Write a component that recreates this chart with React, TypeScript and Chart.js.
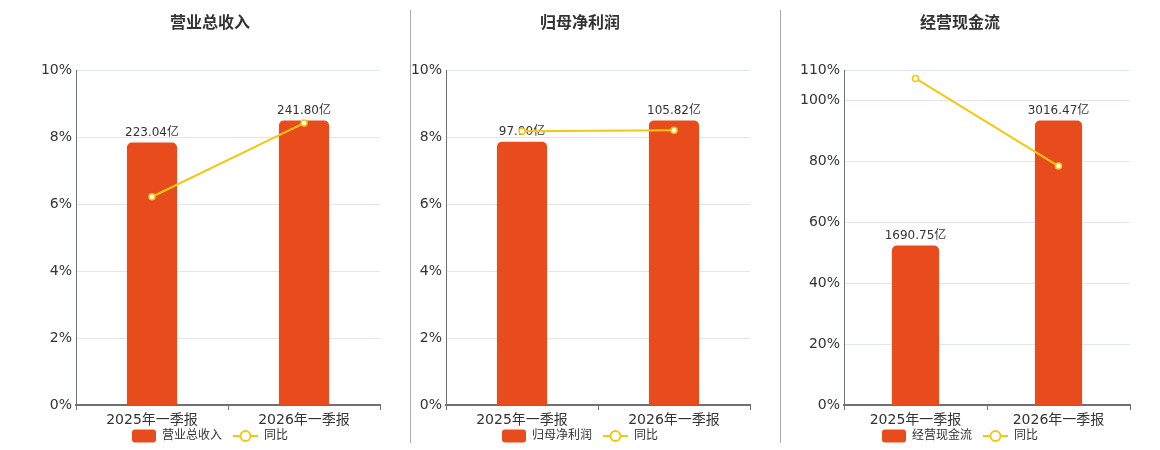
import React, { useEffect, useRef } from 'react';
import { Chart, registerables } from 'chart.js';

Chart.register(...registerables);

// ---------- data ----------
const categories = ['2025年一季报', '2026年一季报'];

const revenueTitle = '营业总收入';
const revenueValues = [223.04, 241.8];
const revenueYoY = [6.22, 8.42];

const profitTitle = '归母净利润';
const profitValues = [97.9, 105.82];
const profitYoY = [8.18, 8.21];

const cashTitle = '经营现金流';
const cashValues = [1690.75, 3016.47];
const cashYoY = [107.3, 78.5];

const smallPercentTicks = [0, 2, 4, 6, 8, 10];
const cashPercentTicks = [0, 20, 40, 60, 80, 100, 110];

const yoyLabel = '同比';
const unit = '亿';

// ---------- styles ----------
const FONT = "'DejaVu Sans', 'Noto Sans CJK SC', sans-serif";
const BAR_COLOR = '#E84C1C';
const LINE_COLOR = '#F3C811';
const AXIS_COLOR = '#6E7079';
const GRID_COLOR = '#E0E6F1';
const TEXT_COLOR = '#333';

Chart.defaults.font.family = FONT;

const valueLabelPlugin = {
  id: 'valueLabels',
  afterDatasetDraw(chart: any, args: any) {
    if (args.index !== 0) return;
    const ctx = chart.ctx;
    ctx.save();
    ctx.font = `12px ${FONT}`;
    ctx.fillStyle = TEXT_COLOR;
    ctx.textAlign = 'center';
    ctx.textBaseline = 'bottom';
    args.meta.data.forEach((el: any, i: number) => {
      const v = chart.data.datasets[0].data[i] as number;
      ctx.fillText(v.toFixed(2) + unit, el.x, el.y - 4);
    });
    ctx.restore();
  },
};

// custom legend drawn at the bottom, centred on the canvas
const LEGEND_Y = 428;
const customLegendPlugin = {
  id: 'customLegend',
  afterDraw(chart: any) {
    const ctx = chart.ctx;
    const ds = chart.data.datasets;
    const barText = ds[0].label as string;
    const lineText = ds[1].label as string;
    ctx.save();
    ctx.font = `12px ${FONT}`;
    const wBarIcon = 24;
    const wLineIcon = 25;
    const gapText = 6;
    const gapItem = 11;
    const t1 = ctx.measureText(barText).width;
    const t2 = ctx.measureText(lineText).width;
    const total = wBarIcon + gapText + t1 + gapItem + wLineIcon + gapText + t2;
    let x = chart.width / 2 - total / 2;
    const y = LEGEND_Y;
    // bar icon
    ctx.fillStyle = BAR_COLOR;
    ctx.beginPath();
    ctx.roundRect(x, y - 6.5, wBarIcon, 13, 3);
    ctx.fill();
    x += wBarIcon + gapText;
    ctx.fillStyle = TEXT_COLOR;
    ctx.textAlign = 'left';
    ctx.textBaseline = 'middle';
    ctx.fillText(barText, x, y);
    x += t1 + gapItem;
    // line icon
    ctx.strokeStyle = LINE_COLOR;
    ctx.lineWidth = 2;
    ctx.beginPath();
    ctx.moveTo(x, y);
    ctx.lineTo(x + wLineIcon, y);
    ctx.stroke();
    ctx.beginPath();
    ctx.arc(x + wLineIcon / 2, y, 5, 0, Math.PI * 2);
    ctx.fillStyle = '#fff';
    ctx.fill();
    ctx.stroke();
    x += wLineIcon + gapText;
    ctx.fillStyle = TEXT_COLOR;
    ctx.fillText(lineText, x, y);
    ctx.restore();
  },
};

type PanelProps = {
  title: string;
  values: number[];
  yoy: number[];
  ticks: number[];
  left: number;
  width: number;
  yLeftWidth: number;
  yRightWidth: number;
};

const CANVAS_H = 442;

function Panel({ title, values, yoy, ticks, left, width, yLeftWidth, yRightWidth }: PanelProps) {
  const ref = useRef<HTMLCanvasElement>(null);
  useEffect(() => {
    if (!ref.current) return;
    const barMax = Math.max(...values) / 0.85;
    const chart = new Chart(ref.current, {
      type: 'bar',
      data: {
        labels: categories,
        datasets: [
          {
            type: 'bar',
            label: title,
            data: values,
            yAxisID: 'y1',
            backgroundColor: BAR_COLOR,
            borderRadius: { topLeft: 5, topRight: 5, bottomLeft: 0, bottomRight: 0 },
            borderSkipped: 'bottom',
            categoryPercentage: 1,
            barPercentage: 0.33,
            order: 1,
          } as any,
          {
            type: 'line',
            label: yoyLabel,
            data: yoy,
            yAxisID: 'y',
            borderColor: LINE_COLOR,
            borderWidth: 2,
            pointRadius: 3,
            pointBorderWidth: 1.5,
            pointBackgroundColor: '#fff',
            pointBorderColor: LINE_COLOR,
            order: 0,
          } as any,
        ],
      },
      options: {
        responsive: false,
        animation: false,
        layout: { padding: { top: 0, left: 0, right: 0, bottom: 21 } },
        plugins: {
          title: {
            display: true,
            text: title,
            color: TEXT_COLOR,
            font: { size: 16, weight: 'bold', family: FONT },
            padding: { top: 6, bottom: 37 },
          },
          legend: { display: false },
          tooltip: { enabled: false },
        },
        scales: {
          x: {
            grid: {
              offset: true,
              drawOnChartArea: false,
              drawTicks: true,
              tickLength: 5,
              color: AXIS_COLOR,
            },
            border: { color: AXIS_COLOR, width: 2 },
            ticks: { color: TEXT_COLOR, font: { size: 14, family: FONT }, padding: 2 },
            afterFit: (s: any) => {
              s.height = 24;
            },
          },
          y: {
            position: 'left',
            min: 0,
            max: ticks[ticks.length - 1],
            afterBuildTicks: (s: any) => {
              s.ticks = ticks.map((v) => ({ value: v }));
            },
            ticks: {
              callback: (v: any) => v + '%',
              color: TEXT_COLOR,
              font: { size: 14, family: FONT },
              padding: 4,
            },
            grid: { color: GRID_COLOR, drawTicks: false },
            border: { color: AXIS_COLOR, width: 1 },
            afterFit: (s: any) => {
              s.width = yLeftWidth;
            },
          },
          y1: {
            position: 'right',
            min: 0,
            max: barMax,
            ticks: { display: false },
            grid: { display: false },
            border: { display: false },
            afterFit: (s: any) => {
              s.width = yRightWidth;
            },
          },
        },
      } as any,
      plugins: [valueLabelPlugin, customLegendPlugin],
    });
    return () => chart.destroy();
  }, []);
  return (
    <div style={{ position: 'absolute', left: left - 8, top: 0, width, height: CANVAS_H }}>
      <canvas ref={ref} width={width} height={CANVAS_H} style={{ width, height: CANVAS_H, display: 'block' }} />
    </div>
  );
}

export default function App() {
  return (
    <div style={{ position: 'relative', width: 1144, height: 442, overflow: 'hidden' }}>
      <Panel title={revenueTitle} values={revenueValues} yoy={revenueYoY} ticks={smallPercentTicks}
        left={6} width={408} yLeftWidth={70} yRightWidth={34} />
      <Panel title={profitTitle} values={profitValues} yoy={profitYoY} ticks={smallPercentTicks}
        left={401} width={358} yLeftWidth={45} yRightWidth={9} />
      <Panel title={cashTitle} values={cashValues} yoy={cashYoY} ticks={cashPercentTicks}
        left={776} width={368} yLeftWidth={68} yRightWidth={14} />
      <div style={{ position: 'absolute', left: 402, top: 2, width: 1, height: 433, background: '#aaa' }} />
      <div style={{ position: 'absolute', left: 772, top: 2, width: 1, height: 433, background: '#aaa' }} />
    </div>
  );
}
